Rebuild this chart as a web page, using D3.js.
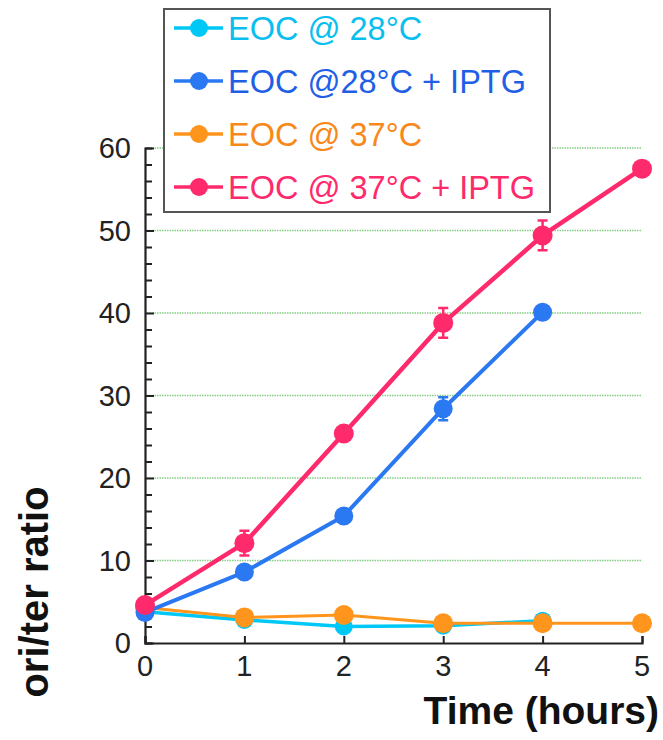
<!DOCTYPE html>
<html>
<head>
<meta charset="utf-8">
<script src="https://cdn.jsdelivr.net/npm/d3@7"></script>
<style>
  html, body { margin: 0; padding: 0; background: #fff; }
  svg { display: block; font-family: "Liberation Sans", Arial, Helvetica, sans-serif; }
</style>
</head>
<body>
<div id="chart"></div>
<script>
// values
const hours = [0, 1, 2, 3, 4, 5];
const eoc28 = [3.8, 2.8, 2.0, 2.1, 2.7];
const eoc28Iptg = [3.7, 8.6, 15.4, 28.4, 40.1];
const eoc28IptgErr = [0, 0, 0, 1.4, 0];
const eoc37 = [4.3, 3.1, 3.4, 2.4, 2.4, 2.4];
const eoc37Iptg = [4.6, 12.1, 25.4, 38.8, 49.4, 57.5];
const eoc37IptgErr = [0, 1.5, 0, 1.8, 1.8, 0];
const yTicks = [0, 10, 20, 30, 40, 50, 60];
const seriesNames = ['EOC @ 28°C', 'EOC @28°C + IPTG', 'EOC @ 37°C', 'EOC @ 37°C + IPTG'];

const width = 663, height = 740;

const series = [
    { name: seriesNames[0], values: eoc28, err: null, color: '#00c8f6', text: '#08bff0', lw: 3.5, r: 9 },
    { name: seriesNames[2], values: eoc37, err: null, color: '#ff951c', text: '#f8881a', lw: 3, r: 10 },
    { name: seriesNames[1], values: eoc28Iptg, err: eoc28IptgErr, color: '#2a78f2', text: '#1f5fe6', lw: 4, r: 9.5 },
    { name: seriesNames[3], values: eoc37Iptg, err: eoc37IptgErr, color: '#ff2a6c', text: '#ff2a6c', lw: 4.5, r: 10 }
];

const svg = d3.select('#chart')
    .append('svg')
    .attr('width', width)
    .attr('height', height);

const x = d3.scaleLinear().domain([0, 5]).range([145, 642]);
const y = d3.scaleLinear().domain([0, 60]).range([643, 148]);

// gridlines
svg.append('g')
    .selectAll('line')
    .data(yTicks.filter(d => d > 0))
    .join('line')
    .attr('x1', x(0) + 2)
    .attr('x2', x(5))
    .attr('y1', d => y(d))
    .attr('y2', d => y(d))
    .attr('stroke', '#85ce85')
    .attr('stroke-width', 1.3)
    .attr('stroke-dasharray', '1.5,1');

// y axis, inward ticks
const yAxis = svg.append('g')
    .attr('transform', `translate(${x(0)},0)`)
    .call(d3.axisRight(y).tickValues(d3.range(0, 61, 2)).tickSize(7).tickFormat(''));
yAxis.select('.domain').attr('stroke', '#222').attr('stroke-width', 2.2);
yAxis.selectAll('.tick line')
    .attr('stroke', '#222')
    .attr('stroke-width', 2)
    .attr('x2', d => d % 10 === 0 ? 9 : 7);

svg.append('g')
    .selectAll('text')
    .data(yTicks)
    .join('text')
    .attr('x', 131)
    .attr('y', d => y(d))
    .attr('dy', '0.36em')
    .attr('text-anchor', 'end')
    .attr('font-size', 29)
    .attr('fill', '#222')
    .text(d => d);

// x axis, ticks pointing up
const xAxis = svg.append('g')
    .attr('transform', `translate(0,${y(0)})`)
    .call(d3.axisTop(x).tickValues(hours).tickSize(7).tickFormat(''));
xAxis.select('.domain').attr('stroke', '#222').attr('stroke-width', 2.2);
xAxis.selectAll('.tick line').attr('stroke', '#222').attr('stroke-width', 2);

svg.append('g')
    .selectAll('text')
    .data(hours)
    .join('text')
    .attr('x', d => x(d))
    .attr('y', 676)
    .attr('text-anchor', 'middle')
    .attr('font-size', 29)
    .attr('fill', '#222')
    .text(d => d);

// axis titles
svg.append('text')
    .attr('transform', 'translate(48,592) rotate(-90)')
    .attr('text-anchor', 'middle')
    .attr('font-size', 40)
    .attr('font-weight', 'bold')
    .attr('fill', '#111')
    .text('ori/ter ratio');

svg.append('text')
    .attr('x', 659)
    .attr('y', 724)
    .attr('text-anchor', 'end')
    .attr('font-size', 39)
    .attr('font-weight', 'bold')
    .attr('fill', '#111')
    .text('Time (hours)');

// series
const line = d3.line().x((d, i) => x(hours[i])).y(d => y(d));

series.forEach(s => {
    const g = svg.append('g');
    g.append('path')
        .datum(s.values)
        .attr('d', line)
        .attr('fill', 'none')
        .attr('stroke', s.color)
        .attr('stroke-width', s.lw)
        .attr('stroke-linejoin', 'round');

    if (s.err) {
        const bars = s.values.map((v, i) => ({ t: hours[i], v: v, e: s.err[i] })).filter(d => d.e > 0);
        g.selectAll('.err')
            .data(bars)
            .join('path')
            .attr('class', 'err')
            .attr('d', d => {
                const cx = x(d.t), y1 = y(d.v + d.e), y2 = y(d.v - d.e);
                return `M${cx},${y1}V${y2}M${cx - 5},${y1}H${cx + 5}M${cx - 5},${y2}H${cx + 5}`;
            })
            .attr('fill', 'none')
            .attr('stroke', s.color)
            .attr('stroke-width', 2.5);
    }

    g.selectAll('circle')
        .data(s.values)
        .join('circle')
        .attr('cx', (d, i) => x(hours[i]))
        .attr('cy', d => y(d))
        .attr('r', s.r)
        .attr('fill', s.color);
});

// legend
const legend = svg.append('g');
legend.append('rect')
    .attr('x', 164)
    .attr('y', 9)
    .attr('width', 386)
    .attr('height', 203)
    .attr('fill', '#fff')
    .attr('stroke', '#555')
    .attr('stroke-width', 2);

const legendOrder = [series[0], series[2], series[1], series[3]];
const row = legend.selectAll('.row')
    .data(legendOrder)
    .join('g')
    .attr('class', 'row')
    .attr('transform', (d, i) => `translate(0,${28 + i * 53})`);

row.append('line')
    .attr('x1', 174).attr('x2', 223)
    .attr('stroke', d => d.color)
    .attr('stroke-width', 3.5);
row.append('circle')
    .attr('cx', 199)
    .attr('r', 9)
    .attr('fill', d => d.color);
row.append('text')
    .attr('x', 228)
    .attr('dy', '0.36em')
    .attr('font-size', 32.5)
    .attr('fill', d => d.text)
    .text(d => d.name);
</script>
</body>
</html>
